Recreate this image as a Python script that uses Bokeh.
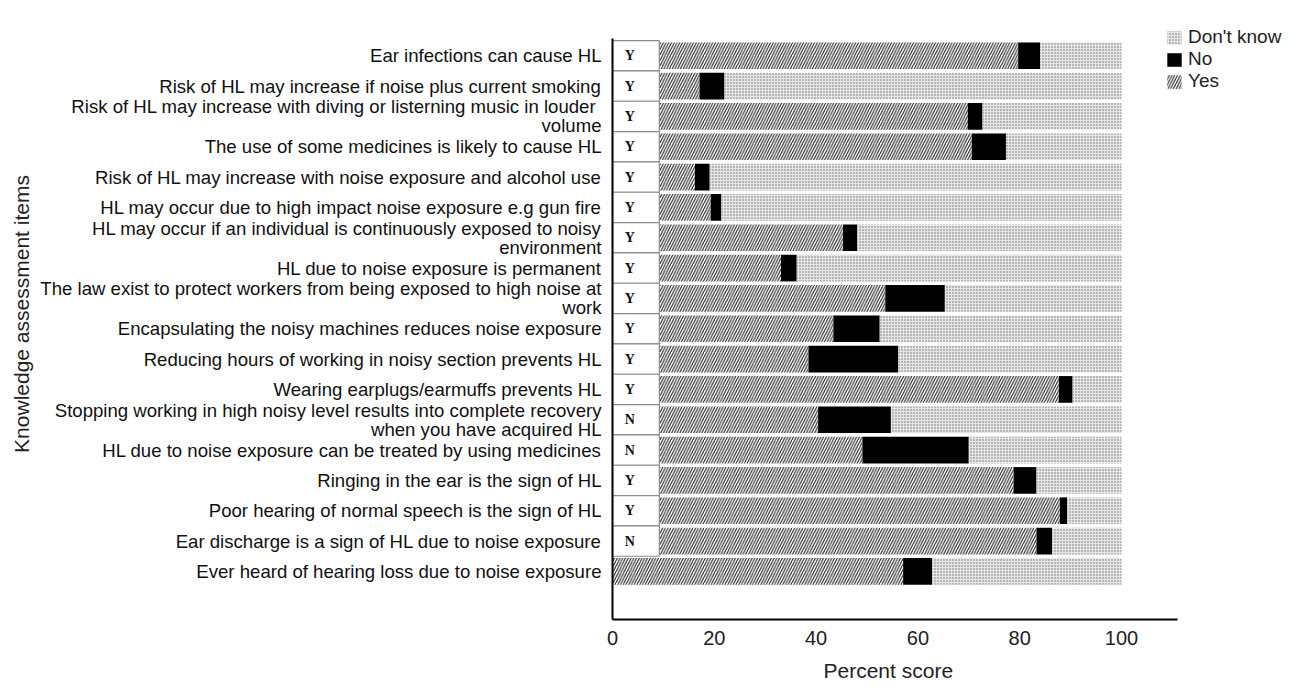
from bokeh.plotting import figure
from bokeh.models import ColumnDataSource, Legend, LegendItem, FixedTicker, Range1d, Title
from bokeh.core.properties import value
from bokeh.embed import file_html
from bokeh.resources import INLINE

# ---- data (top to bottom as in the chart) ----
items = [
    "Ear infections can cause HL",
    "Risk of HL may increase if noise plus current smoking",
    "Risk of HL may increase with diving or listerning  music in louder\nvolume",
    "The use of some medicines is likely to cause HL",
    "Risk of HL may increase with noise exposure and alcohol use",
    "HL may occur due to high impact noise exposure e.g gun fire",
    "HL may occur if an individual is continuously exposed to noisy\nenvironment",
    "HL due to noise exposure is permanent",
    "The law exist to protect workers from being exposed to high noise at\nwork",
    "Encapsulating the noisy machines reduces noise exposure",
    "Reducing hours of working in noisy section prevents HL",
    "Wearing earplugs/earmuffs prevents HL",
    "Stopping working in high noisy level results into complete recovery\nwhen you have acquired HL",
    "HL due to noise exposure can be treated by using medicines",
    "Ringing in the ear is the sign of HL",
    "Poor hearing of normal speech is the sign of HL",
    "Ear discharge is a sign of HL due to noise exposure",
    "Ever heard of hearing loss due to noise exposure",
]
correct = ["Y", "Y", "Y", "Y", "Y", "Y", "Y", "Y", "Y", "Y", "Y", "Y",
           "N", "N", "Y", "Y", "N", ""]
yes_pct = [79.7, 17.1, 69.8, 70.6, 16.2, 19.3, 45.3, 33.1, 53.6, 43.4, 38.5,
           87.7, 40.4, 49.1, 78.8, 87.9, 83.3, 57.1]
no_pct = [4.3, 4.9, 2.9, 6.7, 2.9, 2.1, 2.8, 3.1, 11.7, 9.1, 17.6,
          2.7, 14.3, 20.9, 4.5, 1.4, 3.1, 5.7]
x_ticks = [0, 20, 40, 60, 80, 100]

n = len(items)
ys = [n - 1 - i for i in range(n)]
dk_pct = [100 - a - b for a, b in zip(yes_pct, no_pct)]

src = ColumnDataSource(dict(
    y=ys,
    yes_l=[0] * n, yes_r=yes_pct,
    no_l=yes_pct, no_r=[a + b for a, b in zip(yes_pct, no_pct)],
    dk_l=[a + b for a, b in zip(yes_pct, no_pct)],
    dk_r=[a + b + c for a, b, c in zip(yes_pct, no_pct, dk_pct)],
))

box_idx = [i for i in range(n) if correct[i]]
box_src = ColumnDataSource(dict(
    y=[ys[i] for i in box_idx],
    b=[ys[i] - 0.5 for i in box_idx],
    t=[ys[i] + 0.5 for i in box_idx],
    txt=[correct[i] for i in box_idx],
))

# frame (figure px): left 612, right 1284, top 8, bottom 620
W, H = 1288, 690
FL, FR, FT, FB = 612, 1284, 8, 620
px_per_pct = 5.09
px_per_row = 30.4
y_lo, y_axis_top = -1.585, 17.57
x_hi = (FR - FL) / px_per_pct
y_hi = y_axis_top + (38 - FT) / px_per_row

p = figure(width=W, height=H, output_backend="svg", toolbar_location=None,
           x_range=Range1d(0, x_hi), y_range=Range1d(y_lo, y_hi),
           min_border_left=FL, min_border_right=W - FR,
           min_border_top=FT, min_border_bottom=H - FB)
p.background_fill_color = "white"
p.border_fill_color = "white"
p.outline_line_color = None
p.grid.visible = False

bh = 0.88
r_yes = p.hbar(y="y", left="yes_l", right="yes_r", height=bh, source=src,
               fill_color="white", line_color=None,
               hatch_pattern="/", hatch_color="#222222", hatch_scale=5.5, hatch_weight=1.1)
r_no = p.hbar(y="y", left="no_l", right="no_r", height=bh, source=src,
              fill_color="black", line_color=None)
r_dk = p.hbar(y="y", left="dk_l", right="dk_r", height=bh, source=src,
              fill_color="#e6e6e6", line_color=None,
              hatch_pattern="dot", hatch_color="#6e6e6e", hatch_scale=3, hatch_weight=1.2)

p.quad(left=0, right=9.2, bottom="b", top="t", source=box_src,
       fill_color="white", line_color="#8c8c8c", line_width=1.2)
p.text(x=3.4, y="y", text="txt", source=box_src,
       text_font=value("Liberation Serif"), text_font_style="bold",
       text_font_size="14px", text_align="center", text_baseline="middle",
       text_color="#111111")

# axes
font = "Liberation Sans"
p.xaxis.ticker = FixedTicker(ticks=x_ticks)
p.xaxis.bounds = (0, 111)
p.xaxis.major_label_text_font = font
p.xaxis.major_label_text_font_size = "20px"
p.xaxis.major_label_text_color = "#222222"
p.xaxis.major_label_standoff = 5
p.xaxis.major_tick_line_color = None
p.xaxis.minor_tick_line_color = None
p.xaxis.axis_line_width = 2
p.xaxis.axis_line_color = "black"

xtitle = Title(text="Percent score", align="left", offset=211, standoff=18,
               text_font=font, text_font_style="normal", text_font_size="21px",
               text_line_height=0.9, text_color="#222222")
p.add_layout(xtitle, "below")

p.yaxis.ticker = FixedTicker(ticks=ys)
p.yaxis.bounds = (y_lo, y_axis_top)
p.yaxis.major_label_overrides = {ys[i]: items[i] for i in range(n)}
p.yaxis.axis_label = "Knowledge assessment items"
p.yaxis.axis_label_text_font = font
p.yaxis.axis_label_text_font_style = "normal"
p.yaxis.axis_label_text_font_size = "21px"
p.yaxis.axis_label_text_color = "#222222"
p.yaxis.axis_label_standoff = 4
p.yaxis.major_label_text_font = font
p.yaxis.major_label_text_font_size = "18.6px"
p.yaxis.major_label_text_color = "#111111"
p.yaxis.major_label_text_line_height = 0.9
p.yaxis.major_label_standoff = 5
p.yaxis.major_tick_line_color = None
p.yaxis.minor_tick_line_color = None
p.yaxis.axis_line_width = 2
p.yaxis.axis_line_color = "black"

legend = Legend(items=[
    LegendItem(label="Don't know", renderers=[r_dk]),
    LegendItem(label="No", renderers=[r_no]),
    LegendItem(label="Yes", renderers=[r_yes]),
], location=(553, 527))
legend.label_text_font = font
legend.label_text_font_size = "19px"
legend.label_text_color = "#222222"
legend.glyph_width = 18
legend.glyph_height = 17
legend.label_height = 18
legend.spacing = -3
legend.padding = 0
legend.margin = 0
legend.label_standoff = 5
legend.border_line_color = None
legend.background_fill_alpha = 0
p.add_layout(legend, "center")

open("out.html", "w").write(file_html(p, INLINE))
